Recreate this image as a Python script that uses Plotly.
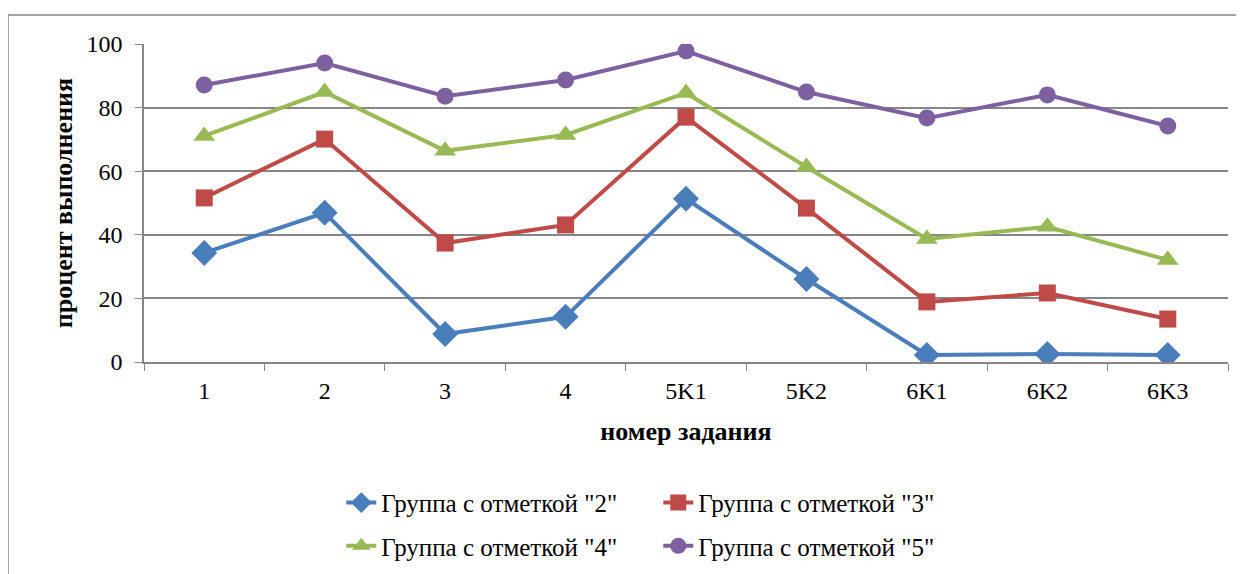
import plotly.graph_objects as go

# task numbers on the x axis
tasks = ["1", "2", "3", "4", "5K1", "5K2", "6K1", "6K2", "6K3"]

# percent of completion per group
group_2 = [34.3, 46.9, 8.8, 14.2, 51.3, 26.1, 2.2, 2.5, 2.2]
group_3 = [51.6, 70.1, 37.4, 43.1, 77.0, 48.4, 18.9, 21.7, 13.5]
group_4 = [71.1, 84.9, 66.4, 71.4, 84.6, 61.3, 38.7, 42.5, 32.1]
group_5 = [87.1, 94.0, 83.6, 88.7, 97.8, 84.9, 76.7, 84.0, 74.2]

names = ['Группа с отметкой "2"', 'Группа с отметкой "3"',
         'Группа с отметкой "4"', 'Группа с отметкой "5"']

FONT = "Liberation Serif, Times New Roman, serif"
GRID = "#868686"

fig = go.Figure()

series = [
    (group_2, names[0], "#4A7EBB", "diamond", 20, "legend"),
    (group_3, names[1], "#BE4B48", "square", 17, "legend"),
    (group_4, names[2], "#98B954", "triangle-up", 19, "legend2"),
    (group_5, names[3], "#7D60A0", "circle", 17, "legend2"),
]

for vals, name, color, symbol, size, leg in series:
    fig.add_trace(
        go.Scatter(
            x=tasks,
            y=vals,
            mode="lines+markers",
            name=name,
            legend=leg,
            line=dict(color=color, width=4),
            marker=dict(symbol=symbol, size=size, color=color),
        )
    )

# outer chart frame
fig.add_shape(
    type="rect", xref="paper", yref="paper",
    x0=-0.1255, y0=-0.9, x1=1.1, y1=1.0912,
    line=dict(color=GRID, width=1.5), layer="below",
)

legend_style = dict(
    orientation="h",
    xanchor="left",
    yanchor="middle",
    font=dict(family=FONT, size=25, color="black"),
    entrywidth=272,
    traceorder="normal",
    bgcolor="rgba(0,0,0,0)",
)

# page body adds an 8px offset; extra height below keeps the legends
# from squeezing the plot area
fig.update_layout(
    width=1236,
    height=600,
    margin=dict(l=136, r=16, t=36, b=246),
    plot_bgcolor="white",
    paper_bgcolor="white",
    font=dict(family=FONT, size=24, color="black"),
    showlegend=True,
    legend=dict(x=0.182, y=-0.443, **legend_style),
    legend2=dict(x=0.182, y=-0.579, **legend_style),
    xaxis=dict(
        type="category",
        range=[-0.5, 8.5],
        automargin=False,
        showgrid=False,
        showline=True,
        linecolor=GRID,
        linewidth=1.5,
        ticks="outside",
        tickson="boundaries",
        ticklen=7,
        tickcolor=GRID,
        ticklabelstandoff=6,
        tickfont=dict(family=FONT, size=24),
        title=dict(text="<b>номер задания</b>",
                   font=dict(family=FONT, size=26), standoff=19),
    ),
    yaxis=dict(
        range=[0, 100],
        dtick=20,
        automargin=False,
        showgrid=True,
        gridcolor=GRID,
        gridwidth=1.5,
        showline=True,
        linecolor=GRID,
        linewidth=1.5,
        ticks="outside",
        ticklen=7,
        tickcolor=GRID,
        ticklabelstandoff=8,
        zeroline=False,
        tickfont=dict(family=FONT, size=24),
        title=dict(text="<b>процент выполнения</b>",
                   font=dict(family=FONT, size=26), standoff=6),
    ),
)

fig.write_html("out.html")
